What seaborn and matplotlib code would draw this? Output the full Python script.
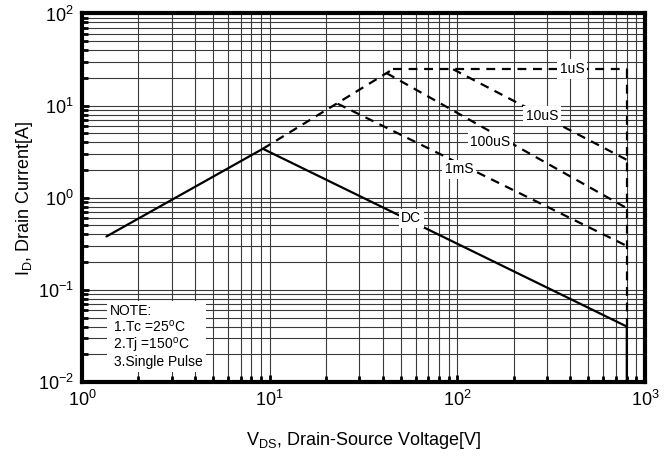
import pandas as pd
import seaborn as sns
import matplotlib.pyplot as plt
from matplotlib.ticker import LogLocator, NullFormatter

# Safe operating area data
dc_v = [1.35, 9.2, 800, 800]
dc_i = [0.38, 3.4, 0.04, 0.01]
rise_v = [9.2, 45.3]
rise_i = [3.4, 24.8]
us1_v = [45.3, 800]
us1_i = [24.8, 24.8]
us10_v = [95, 800]
us10_i = [24.8, 2.58]
us100_v = [42, 800]
us100_i = [22.5, 0.77]
ms1_v = [23, 800]
ms1_i = [10.5, 0.30]
vmax_v = [800, 800]
vmax_i = [0.04, 24.8]

curve_names = ['1uS', '10uS', '100uS', '1mS', 'DC']
label_v = [409, 283, 150, 102.5, 56.9]
label_i = [24.8, 7.7, 4.07, 2.03, 0.596]

note_lines = ['NOTE:', ' 1.Tc =25$^{o}$C', ' 2.Tj =150$^{o}$C', ' 3.Single Pulse']

sns.set_style('white')
plt.rcParams['font.family'] = ['Liberation Sans', 'DejaVu Sans']
plt.rcParams['mathtext.default'] = 'regular'
plt.rcParams['text.color'] = 'black'
plt.rcParams['axes.labelcolor'] = 'black'
plt.rcParams['xtick.color'] = 'black'
plt.rcParams['ytick.color'] = 'black'

fig = plt.figure(figsize=(6.71, 4.57), dpi=100)
ax = fig.add_axes([0.1222, 0.1641, 0.839, 0.8064])

solid = dict(color='black', lw=1.6, sort=False, estimator=None)
dashed = dict(color='black', lw=1.6, sort=False, estimator=None, linestyle=(0, (4, 3)))

sns.lineplot(x=dc_v, y=dc_i, ax=ax, **solid)
for xs, ys in [(rise_v, rise_i), (us1_v, us1_i), (us10_v, us10_i),
               (us100_v, us100_i), (ms1_v, ms1_i), (vmax_v, vmax_i)]:
    sns.lineplot(x=xs, y=ys, ax=ax, **dashed)

ax.set_xscale('log')
ax.set_yscale('log')
ax.set_xlim(1, 1000)
ax.set_ylim(0.01, 100)

ax.xaxis.set_minor_locator(LogLocator(base=10, subs=range(2, 10)))
ax.yaxis.set_minor_locator(LogLocator(base=10, subs=range(2, 10)))
ax.xaxis.set_minor_formatter(NullFormatter())
ax.yaxis.set_minor_formatter(NullFormatter())
ax.grid(which='both', color='#3a3a3a', lw=0.8)
ax.set_axisbelow(True)

for s in ax.spines.values():
    s.set_linewidth(3)
    s.set_color('black')
ax.tick_params(which='major', direction='in', length=5, width=2, labelsize=13, pad=6)
ax.tick_params(which='minor', direction='in', length=4, width=2)
ax.tick_params(axis='x', which='both', top=False, bottom=True)
ax.tick_params(axis='y', which='both', left=True, right=False)

# Curve labels
for name, xv, yv in zip(curve_names, label_v, label_i):
    ax.text(xv, yv, name, fontsize=10, ha='center', va='center', zorder=5,
            bbox=dict(facecolor='white', edgecolor='none', pad=2))

# Note box
ax.text(1.41, 0.0138, '\n'.join(note_lines), fontsize=10, ha='left', va='bottom',
        linespacing=1.05, zorder=5,
        bbox=dict(facecolor='white', edgecolor='none', pad=2))

ax.set_xlabel('$V_{DS}$, Drain-Source Voltage[V]', fontsize=13, labelpad=14)
ax.set_ylabel('$I_D$, Drain Current[A]', fontsize=13, labelpad=2)

plt.savefig('out.png', dpi=100)
